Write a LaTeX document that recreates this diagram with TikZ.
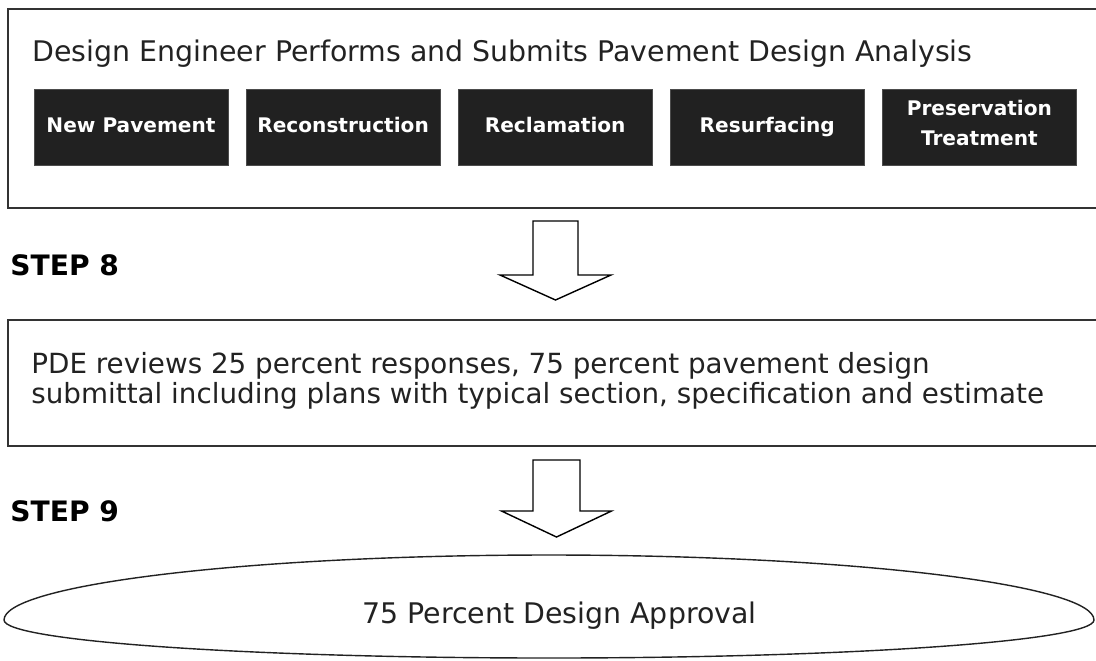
\documentclass[tikz,border=0pt]{standalone}
\usepackage{fontspec}
\setmainfont{DejaVu Sans}
\usepackage{tikz}
\usetikzlibrary{positioning}
\definecolor{ink}{HTML}{222222}
\definecolor{boxfill}{HTML}{212121}
\definecolor{framegray}{HTML}{333333}

\begin{document}
\begin{tikzpicture}[
    x = 0.025cm, % one unit per pixel
    y = -0.025cm, % y runs down
    node distance = 0.43cm, % gap between treatment boxes
    semithick, % line style
    color = ink
]

\tikzstyle{panel}=[
    draw = framegray,
    line width = 1.2pt,
    rectangle,
    anchor = north west,
    minimum width = 27.325cm
]
\tikzstyle{treatment}=[
    draw = black!70,
    fill = boxfill,
    text = white,
    minimum width = 4.85cm,
    minimum height = 1.9cm,
    align = center,
    execute at begin node = \strut,
    font = \bfseries\fontsize{14.3pt}{21.3pt}\selectfont
]
\tikzstyle{steplabel}=[anchor = base west, inner sep = 0pt, text = black, font = \bfseries\fontsize{20pt}{24pt}\selectfont]
\tikzstyle{body}=[inner sep = 0pt, font = \fontsize{20.2pt}{21.3pt}\selectfont]
\tikzstyle{hollow}=[draw = black, line width = 1pt, fill = white, line join = miter]

\useasboundingbox (0,0) rectangle (1096,660);
\clip (0,0) rectangle (1096,660);

% design analysis panel
\node[panel, minimum height = 4.975cm] (Design Analysis) at (7,8) {};
\node[body, anchor = base west] (Analysis Title) at (32,61) {Design Engineer Performs and Submits Pavement Design Analysis};

\node[treatment] (New Pavement) at (131,127) {New Pavement};
\node[treatment] (Reconstruction) [right = of New Pavement] {Reconstruction};
\node[treatment] (Reclamation) [right = of Reconstruction] {Reclamation};
\node[treatment] (Resurfacing) [right = of Reclamation] {Resurfacing};
\node[treatment] (Preservation) [right = of Resurfacing] {Preservation\\Treatment};

% step 8
\node[steplabel] (Step 8) at (10,275) {STEP 8};
\coordinate (Arrow 8) at (555.5,221);
\draw[hollow] (Arrow 8) ++(-22.5,0) -- ++(0,54) -- ++(-33,0) -- ++(55.5,25) -- ++(55.5,-25) -- ++(-33,0) -- ++(0,-54) -- cycle;

% review panel
\node[panel, minimum height = 3.15cm] (PDE Review) at (7,319) {};
\node[body, anchor = base west, align = left, font = \fontsize{19.75pt}{21.3pt}\selectfont] (Review Text) at (31,403) {PDE reviews 25 percent responses, 75 percent pavement design\\submittal including plans with typical section, specification and estimate};

% step 9
\node[steplabel] (Step 9) at (10,521) {STEP 9};
\coordinate (Arrow 9) at (556.5,460);
\draw[hollow] (Arrow 9) ++(-23.5,0) -- ++(0,51) -- ++(-31.5,0) -- ++(55,26) -- ++(55,-26) -- ++(-31.5,0) -- ++(0,-51) -- cycle;

% approval
\node[body, anchor = base] (Approval) at (559.5,623) {75 Percent Design Approval};
\draw[line width = 1pt] (4,620) .. controls (4,584.7) and (248,555) .. (549,555)
    .. controls (850,555) and (1094,584.7) .. (1094,620)
    .. controls (1094,641) and (850,658) .. (549,658)
    .. controls (248,658) and (4,641) .. (4,620) -- cycle;

%\draw[red] (0,0) grid[step=100] (1096,660);
\end{tikzpicture}
\end{document}
